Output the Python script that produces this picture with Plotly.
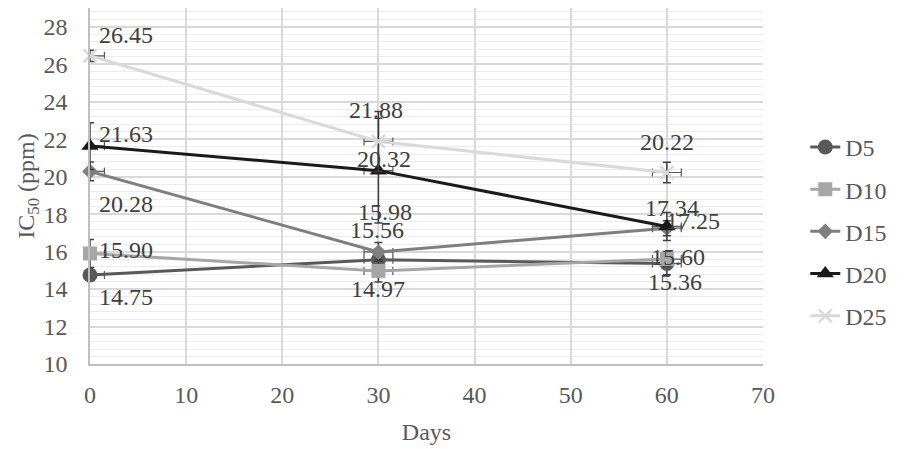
import plotly.graph_objects as go

days = [0, 30, 60]
series_names = ["D5", "D10", "D15", "D20", "D25"]
D5 = [14.75, 15.56, 15.36]
D10 = [15.90, 14.97, 15.60]
D15 = [20.28, 15.98, 17.25]
D20 = [21.63, 20.32, 17.34]
D25 = [26.45, 21.88, 20.22]
err_D5 = [0.2, 0.3, 0.6]
err_D10 = [0.75, 0.6, 0.4]
err_D15 = [0.5, 0.5, 0.4]
err_D20 = [1.25, 2.8, 0.75]
err_D25 = [0.3, 1.6, 0.55]
err_days = [1.5, 1.5, 1.5]

values = [D5, D10, D15, D20, D25]
errors = [err_D5, err_D10, err_D15, err_D20, err_D25]
colors = ["#595959", "#a6a6a6", "#7f7f7f", "#1a1a1a", "#d9d9d9"]
symbols = ["circle", "square", "diamond", "triangle-up", "x-thin"]
msizes = [15, 14, 12, 15, 13]

# label offsets (pixels) per series per point
offsets = [
    [(36, -22), (-1, 30), (8, -18)],
    [(36, 3), (0, -18), (11, 2)],
    [(36, -33), (7, 40), (26, 7)],
    [(36, 12), (6, 12), (5, 18)],
    [(36, 21), (-2, 31), (0, 31)],
]

FONT = "Liberation Serif"
fig = go.Figure()
for name, vals, errs, col, sym, ms in zip(series_names, values, errors, colors, symbols, msizes):
    marker = dict(symbol=sym, size=ms, color=col)
    if sym == "x-thin":
        marker["line"] = dict(color=col, width=2.5)
    fig.add_trace(go.Scatter(
        x=days, y=vals, name=name, mode="lines+markers",
        line=dict(color=col, width=3),
        marker=marker,
        error_y=dict(type="data", array=errs, visible=True, color="#404040", thickness=1.5, width=4),
        error_x=dict(type="data", array=err_days, visible=True, color="#595959", thickness=1.2, width=4),
        cliponaxis=False,
        legendgroup=name,
    ))

for vals, offs in zip(values, offsets):
    for d, v, (dx, dy) in zip(days, vals, offs):
        fig.add_annotation(x=d, y=v, text=f"{v:.2f}", showarrow=False,
                           xshift=dx, yshift=dy,
                           font=dict(family=FONT, size=24, color="#404040"))

fig.update_layout(
    width=906, height=441,
    margin=dict(l=82, r=151, t=0, b=85),
    plot_bgcolor="white", paper_bgcolor="white",
    font=dict(family=FONT, size=24, color="#595959"),
    showlegend=True,
    legend=dict(xref="container", yref="container", x=0.88, y=0.735,
                xanchor="left", yanchor="top", tracegroupgap=8, maxheight=400,
                font=dict(family=FONT, size=24, color="#595959"),
                bgcolor="rgba(0,0,0,0)"),
    xaxis=dict(range=[0, 70], dtick=10, tick0=0, showgrid=True, gridcolor="#d9d9d9", gridwidth=1.5,
               showline=True, linecolor="#bfbfbf", linewidth=1.5, zeroline=False, automargin=False,
               ticks="outside", ticklen=8, tickcolor="rgba(0,0,0,0)",
               tickfont=dict(family=FONT, size=24, color="#595959"),
               title=dict(text="Days", font=dict(family=FONT, size=24, color="#595959"), standoff=17)),
    yaxis=dict(range=[10, 29], dtick=2, tick0=10, showgrid=True, gridcolor="#d9d9d9", gridwidth=1.5,
               showline=True, linecolor="#bfbfbf", linewidth=1.5, zeroline=False, automargin=False,
               ticks="outside", ticklen=16, tickcolor="rgba(0,0,0,0)",
               tickfont=dict(family=FONT, size=24, color="#595959"),
               minor=dict(dtick=0.4, showgrid=True, gridcolor="#ececec", gridwidth=1),
               title=dict(text="IC<sub>50</sub> (ppm)", font=dict(family=FONT, size=24, color="#595959"), standoff=2)),
)

fig.write_html("out.html")
